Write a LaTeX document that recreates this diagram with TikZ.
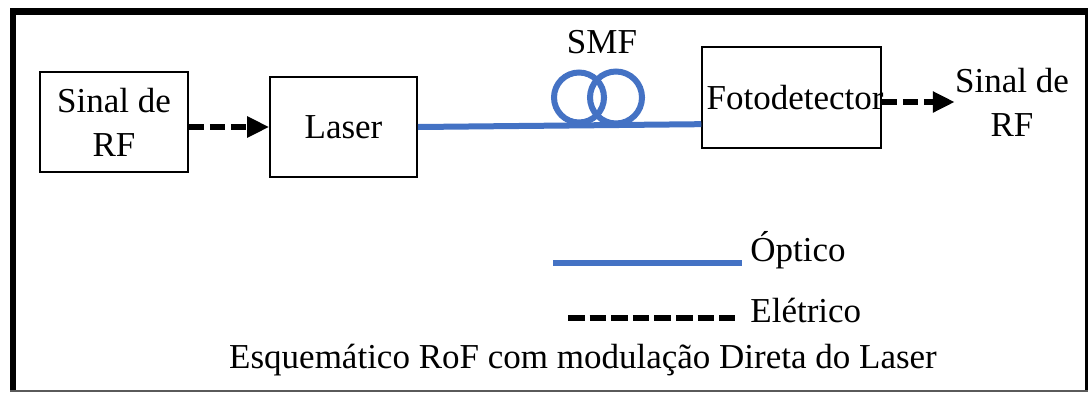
\documentclass[tikz,border=0pt]{standalone}
\usepackage{fontspec}
\setmainfont{Liberation Serif}
\usepackage{tikz}
\usetikzlibrary{arrows.meta, positioning, calc}
\definecolor{rofblue}{RGB}{68,114,196}
\definecolor{rofgray}{RGB}{90,90,90}
\tikzset{
  %% ---- boxes ----
  blockbox/.style = {rectangle, draw=black, line width=0.8pt,
                   fill=white, align=center, inner sep=2pt,
                   font=\fontsize{17.5}{22}\selectfont},
  label/.style    = {inner sep=0pt, align=center,
                   font=\fontsize{17.5}{22}\selectfont},
  %% ---- links ----
  optic/.style   = {line width=3pt, color=rofblue},
  elec/.style    = {line width=3pt, color=black,
                   dash pattern=on 8.3pt off 2.5pt},
  elecarrow/.style = {elec, dash pattern=on 7.5pt off 3pt,
                   -{Triangle[length=11pt,width=10pt]}},
}
\begin{document}
\begin{tikzpicture}[x=0.5pt, y=-0.5pt]
\useasboundingbox (0,0) rectangle (1090,392);
% outer frame
\draw[line width=3.5pt] (10,11.5) -- (1088,11.5);
\draw[line width=3pt] (13,8) -- (13,392);
\draw[line width=1.5pt] (1086.5,8) -- (1086.5,392);
\draw[line width=1pt, rofgray] (10,390.5) -- (1088,390.5);

% blocks
\node[blockbox, minimum width=74pt, minimum height=50pt] (rfin) at (114,122) {Sinal de\\RF};
\node[blockbox, minimum width=73.5pt, minimum height=50pt] (laser) at (343.5,127) {Laser};
\node[blockbox, minimum width=88.5pt, minimum height=50.5pt, inner sep=0.5pt] (foto) at (791.5,97.5) {\hspace*{1.8pt}Fotodetector\hspace*{-1.8pt}};
\node[label] (rfout) at (1012,102) {Sinal de\\RF};

% fibre with two loops
\coordinate (fibin) at ($(foto.north west)!0.76!(foto.south west)$);
\coordinate (loopA) at (579,97.5);
\coordinate (loopB) at (616,97.5);
\draw[optic] (laser.east) -- (fibin);
\draw[optic] (loopA) circle[radius=12.5pt];
\draw[optic] (loopB) circle[radius=13pt];
\node[label] (smf) at (602,42) {SMF};

% electrical links
\draw[elecarrow] (rfin.east |- laser.west) -- (laser.west);
\draw[elecarrow] (foto.east |- rfout.west) -- (rfout.west);

% legend
\coordinate (optA) at (553,263);
\coordinate (optB) at (742,263);
\coordinate (elecA) at (568,318);
\coordinate (elecB) at (735,318);
\draw[optic] (optA) -- (optB);
\draw[elec] (elecA) -- (elecB);
\node[label, anchor=west] (opttxt) at (750,250) {Óptico};
\node[label, anchor=west] (electxt) at (750,310) {Elétrico};

\node[label] (caption) at (583,360) {Esquemático RoF com modulação Direta do Laser};
\end{tikzpicture}
\end{document}
